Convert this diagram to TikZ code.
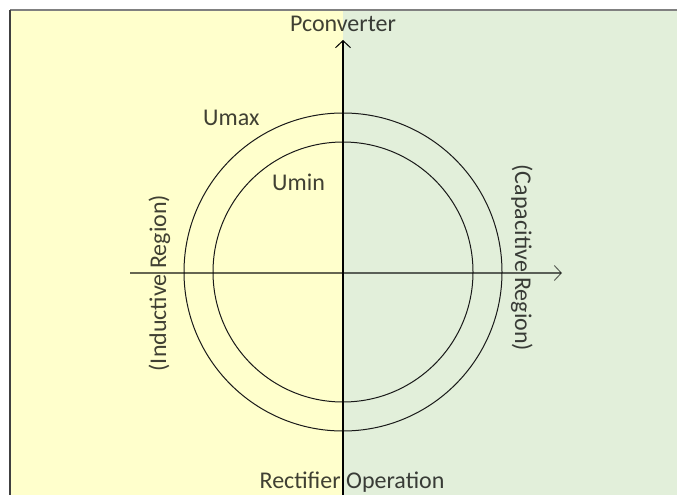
\documentclass[tikz,border=0pt]{standalone}
\usepackage{fontspec}
\setmainfont{Carlito}
\usetikzlibrary{arrows.meta}
\definecolor{indfill}{HTML}{FFFFCC}
\definecolor{capfill}{HTML}{E2EFDA}
\tikzset{
  lbl/.style={inner sep=0pt, text=black, text opacity=0.75,
    font=\fontsize{24}{28}\selectfont},
  ring/.style={draw=black!90, line width=1pt},
  axis/.style={line width=1.2pt, -{Straight Barb[length=7pt,width=15pt,line width=1pt]}}
}
\begin{document}
\begin{tikzpicture}[x=1pt,y=-1pt]
  \useasboundingbox (0,0) rectangle (677,495);
  % half-plane backgrounds
  \fill[indfill] (10,10) rectangle (343,495);
  \fill[capfill] (343,10) rectangle (677,495);
  % frame edges
  \draw[gray, line width=1.5pt] (10,10) -- (677,10);
  \draw[black!75, line width=1.5pt] (10,10) -- (10,495);
  % voltage limit circles
  \coordinate (o) at (343,272);
  \draw[ring] (o) circle[radius=159];
  \draw[ring] (o) circle[radius=130];
  % axes
  \coordinate (xl) at (130,273);
  \coordinate (xr) at (562,273);
  \coordinate (yb) at (343,495);
  \coordinate (yt) at (343,40);
  \draw[axis, draw=black, draw opacity=0.6] (xl) -- (xr);
  \draw[axis, draw=black] (yb) -- (yt);
  % labels
  \node[lbl, anchor=base] (pconv) at (343,32) {Pconverter};
  \node[lbl, anchor=base west] (umax) at (203,125) {Umax};
  \node[lbl, anchor=base west] (umin) at (272,190) {Umin};
  \node[lbl, anchor=base] (rect) at (352,488) {Rectifier Operation};
  \node[lbl, anchor=base, rotate=90] (ind) at (166,283) {(Inductive Region)};
  \node[lbl, anchor=base, rotate=-90] (cap) at (515,258) {(Capacitive Region)};
\end{tikzpicture}
\end{document}
